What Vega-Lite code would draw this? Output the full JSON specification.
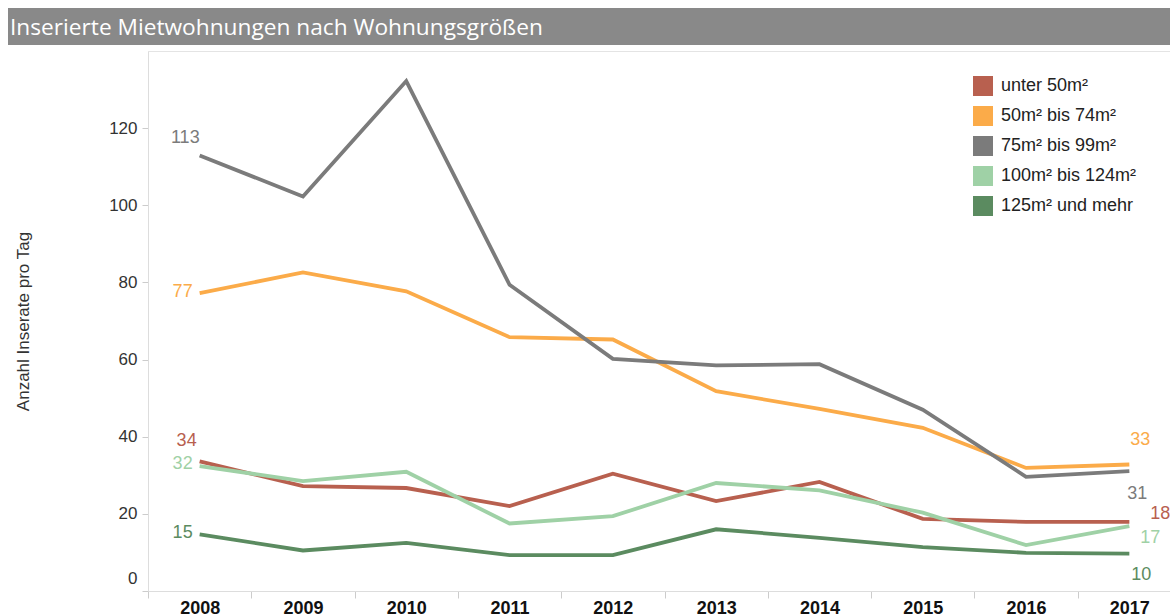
{
  "$schema": "https://vega.github.io/schema/vega-lite/v6.json",
  "padding": {"left": 8, "top": 8, "right": 0, "bottom": 0},
  "background": "white",
  "config": {"font": "Arial", "view": {"stroke": null}},
  "spacing": 5,
  "vconcat": [
    {
      "width": 1022,
      "height": 37,
      "view": {"stroke": null},
      "data": {"values": [{"label": "Inserierte Mietwohnungen nach Wohnungsgrößen", "start": -140, "end": 1022}]},
      "encoding": {
        "x": {"field": "start", "type": "quantitative", "scale": {"domain": [0, 1022], "zero": false, "nice": false}, "axis": null}
      },
      "layer": [
        {
          "mark": {"type": "rect", "color": "#898989", "clip": false},
          "encoding": {"x2": {"field": "end"}}
        },
        {
          "mark": {"type": "text", "align": "left", "baseline": "middle", "color": "white", "fontSize": 22.7, "font": "Open Sans", "dx": 2, "dy": 1},
          "encoding": {"text": {"field": "label"}}
        }
      ]
    },
    {
      "width": 1033,
      "height": 540,
      "view": {"stroke": "#e4e4e4"},
      "data": {"values": [
        {"year": "2008", "series": "unter 50m²", "value": 33.6},
        {"year": "2009", "series": "unter 50m²", "value": 27.2},
        {"year": "2010", "series": "unter 50m²", "value": 26.7},
        {"year": "2011", "series": "unter 50m²", "value": 22.0},
        {"year": "2012", "series": "unter 50m²", "value": 30.4},
        {"year": "2013", "series": "unter 50m²", "value": 23.3},
        {"year": "2014", "series": "unter 50m²", "value": 28.3},
        {"year": "2015", "series": "unter 50m²", "value": 18.7},
        {"year": "2016", "series": "unter 50m²", "value": 17.9},
        {"year": "2017", "series": "unter 50m²", "value": 17.9},
        {"year": "2008", "series": "50m² bis 74m²", "value": 77.2},
        {"year": "2009", "series": "50m² bis 74m²", "value": 82.6},
        {"year": "2010", "series": "50m² bis 74m²", "value": 77.7},
        {"year": "2011", "series": "50m² bis 74m²", "value": 65.8},
        {"year": "2012", "series": "50m² bis 74m²", "value": 65.2},
        {"year": "2013", "series": "50m² bis 74m²", "value": 51.8},
        {"year": "2014", "series": "50m² bis 74m²", "value": 47.2},
        {"year": "2015", "series": "50m² bis 74m²", "value": 42.3},
        {"year": "2016", "series": "50m² bis 74m²", "value": 31.9},
        {"year": "2017", "series": "50m² bis 74m²", "value": 32.8},
        {"year": "2008", "series": "75m² bis 99m²", "value": 112.9},
        {"year": "2009", "series": "75m² bis 99m²", "value": 102.3},
        {"year": "2010", "series": "75m² bis 99m²", "value": 132.2},
        {"year": "2011", "series": "75m² bis 99m²", "value": 79.4},
        {"year": "2012", "series": "75m² bis 99m²", "value": 60.2},
        {"year": "2013", "series": "75m² bis 99m²", "value": 58.5},
        {"year": "2014", "series": "75m² bis 99m²", "value": 58.8},
        {"year": "2015", "series": "75m² bis 99m²", "value": 47.0},
        {"year": "2016", "series": "75m² bis 99m²", "value": 29.6},
        {"year": "2017", "series": "75m² bis 99m²", "value": 31.1},
        {"year": "2008", "series": "100m² bis 124m²", "value": 32.4},
        {"year": "2009", "series": "100m² bis 124m²", "value": 28.5},
        {"year": "2010", "series": "100m² bis 124m²", "value": 30.9},
        {"year": "2011", "series": "100m² bis 124m²", "value": 17.5},
        {"year": "2012", "series": "100m² bis 124m²", "value": 19.4},
        {"year": "2013", "series": "100m² bis 124m²", "value": 28.0},
        {"year": "2014", "series": "100m² bis 124m²", "value": 26.1},
        {"year": "2015", "series": "100m² bis 124m²", "value": 20.3},
        {"year": "2016", "series": "100m² bis 124m²", "value": 11.9},
        {"year": "2017", "series": "100m² bis 124m²", "value": 16.8},
        {"year": "2008", "series": "125m² und mehr", "value": 14.7},
        {"year": "2009", "series": "125m² und mehr", "value": 10.5},
        {"year": "2010", "series": "125m² und mehr", "value": 12.5},
        {"year": "2011", "series": "125m² und mehr", "value": 9.3},
        {"year": "2012", "series": "125m² und mehr", "value": 9.3},
        {"year": "2013", "series": "125m² und mehr", "value": 16.0},
        {"year": "2014", "series": "125m² und mehr", "value": 13.8},
        {"year": "2015", "series": "125m² und mehr", "value": 11.4},
        {"year": "2016", "series": "125m² und mehr", "value": 9.9},
        {"year": "2017", "series": "125m² und mehr", "value": 9.7}
      ]},
      "encoding": {
        "x": {
          "field": "year", "type": "ordinal",
          "scale": {"type": "band", "paddingInner": 0, "paddingOuter": 0},
          "axis": {"title": null, "labelAngle": 0, "labelFont": "Arial", "labelFontSize": 18, "labelFontWeight": "bold", "labelColor": "#111111", "tickBand": "extent", "tickColor": "#cccccc", "tickSize": 7, "domainColor": "#dddddd", "labelPadding": 1}
        },
        "y": {
          "field": "value", "type": "quantitative",
          "scale": {"domain": [0, 140], "nice": false},
          "axis": {"title": "Anzahl Inserate pro Tag", "values": [0, 20, 40, 60, 80, 100, 120], "grid": false, "labelFont": "Arial", "labelFontSize": 17, "labelColor": "#333333", "labelPadding": 5, "tickSize": 6, "tickColor": "#cccccc", "domainColor": "#dddddd", "titleFont": "Arial", "titleFontSize": 17, "titleFontWeight": "normal", "titleColor": "#333333", "titlePadding": 76, "labelOffset": {"condition": {"test": "datum.value === 0", "value": -13}, "value": 0}}
        }
      },
      "layer": [
        {
          "transform": [{"filter": "false"}],
          "mark": {"type": "square", "filled": true, "opacity": 1},
          "encoding": {
            "color": {
              "field": "series", "type": "nominal",
              "scale": {"domain": ["unter 50m²", "50m² bis 74m²", "75m² bis 99m²", "100m² bis 124m²", "125m² und mehr"], "range": ["#b8604f", "#fbab49", "#7b7b7b", "#9fd1a6", "#5b8b60"]},
              "legend": {"title": null, "orient": "none", "legendX": 825, "legendY": 68, "symbolType": "square", "symbolSize": 400, "symbolStrokeWidth": 0, "symbolOpacity": 1, "labelFont": "Arial", "labelFontSize": 18, "labelColor": "#222222", "labelOffset": 8, "rowPadding": 10, "padding": 0}
            }
          }
        },
        {
          "mark": {"type": "line", "strokeWidth": 3.8},
          "encoding": {
            "color": {"field": "series", "type": "nominal", "legend": null}
          }
        },
        {
          "transform": [{"filter": "datum.year == '2008' && datum.series == '75m² bis 99m²'"}],
          "mark": {"type": "text", "align": "right", "baseline": "middle", "dx": 0, "dy": -18, "fontSize": 18},
          "encoding": {"text": {"field": "value", "format": ".0f"}, "color": {"field": "series", "type": "nominal", "legend": null}}
        },
        {
          "transform": [{"filter": "datum.year == '2008' && datum.series == '50m² bis 74m²'"}],
          "mark": {"type": "text", "align": "right", "baseline": "middle", "dx": -7, "dy": -1, "fontSize": 18},
          "encoding": {"text": {"field": "value", "format": ".0f"}, "color": {"field": "series", "type": "nominal", "legend": null}}
        },
        {
          "transform": [{"filter": "datum.year == '2008' && datum.series == 'unter 50m²'"}],
          "mark": {"type": "text", "align": "right", "baseline": "middle", "dx": -3, "dy": -20, "fontSize": 18},
          "encoding": {"text": {"field": "value", "format": ".0f"}, "color": {"field": "series", "type": "nominal", "legend": null}}
        },
        {
          "transform": [{"filter": "datum.year == '2008' && datum.series == '100m² bis 124m²'"}],
          "mark": {"type": "text", "align": "right", "baseline": "middle", "dx": -7, "dy": -2, "fontSize": 18},
          "encoding": {"text": {"field": "value", "format": ".0f"}, "color": {"field": "series", "type": "nominal", "legend": null}}
        },
        {
          "transform": [{"filter": "datum.year == '2008' && datum.series == '125m² und mehr'"}],
          "mark": {"type": "text", "align": "right", "baseline": "middle", "dx": -7, "dy": -1, "fontSize": 18},
          "encoding": {"text": {"field": "value", "format": ".0f"}, "color": {"field": "series", "type": "nominal", "legend": null}}
        },
        {
          "transform": [{"filter": "datum.year == '2017' && datum.series == '50m² bis 74m²'"}],
          "mark": {"type": "text", "align": "left", "baseline": "middle", "dx": 1, "dy": -24, "fontSize": 18},
          "encoding": {"text": {"field": "value", "format": ".0f"}, "color": {"field": "series", "type": "nominal", "legend": null}}
        },
        {
          "transform": [{"filter": "datum.year == '2017' && datum.series == '75m² bis 99m²'"}],
          "mark": {"type": "text", "align": "left", "baseline": "middle", "dx": -2, "dy": 23, "fontSize": 18},
          "encoding": {"text": {"field": "value", "format": ".0f"}, "color": {"field": "series", "type": "nominal", "legend": null}}
        },
        {
          "transform": [{"filter": "datum.year == '2017' && datum.series == 'unter 50m²'"}],
          "mark": {"type": "text", "align": "left", "baseline": "middle", "dx": 21, "dy": -8, "fontSize": 18},
          "encoding": {"text": {"field": "value", "format": ".0f"}, "color": {"field": "series", "type": "nominal", "legend": null}}
        },
        {
          "transform": [{"filter": "datum.year == '2017' && datum.series == '100m² bis 124m²'"}],
          "mark": {"type": "text", "align": "left", "baseline": "middle", "dx": 11, "dy": 12, "fontSize": 18},
          "encoding": {"text": {"field": "value", "format": ".0f"}, "color": {"field": "series", "type": "nominal", "legend": null}}
        },
        {
          "transform": [{"filter": "datum.year == '2017' && datum.series == '125m² und mehr'"}],
          "mark": {"type": "text", "align": "left", "baseline": "middle", "dx": 2, "dy": 21, "fontSize": 18},
          "encoding": {"text": {"field": "value", "format": ".0f"}, "color": {"field": "series", "type": "nominal", "legend": null}}
        }
      ]
    }
  ]
}
